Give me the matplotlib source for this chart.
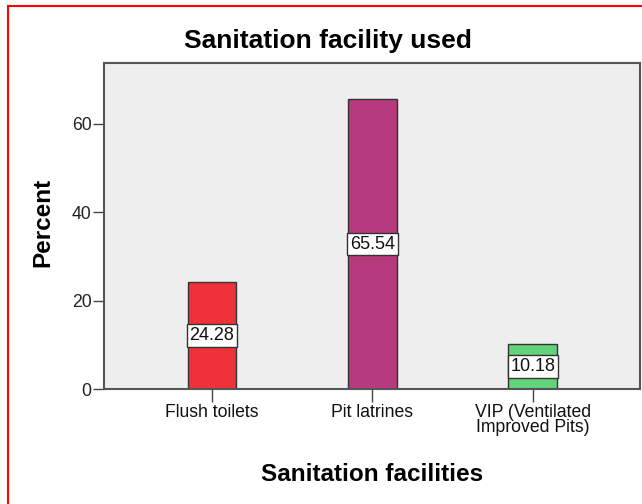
import matplotlib.pyplot as plt
import matplotlib.patches as mpatches

# data
categories = ['Flush toilets', 'Pit latrines', 'VIP (Ventilated\nImproved Pits)']
percents = [24.28, 65.54, 10.18]
bar_colors = ['#EF3239', '#B83A7E', '#62D37B']
y_ticks = [0, 20, 40, 60]

plt.rcParams['font.family'] = ['Liberation Sans', 'DejaVu Sans']

W, H = 642, 504
fig = plt.figure(figsize=(W / 100, H / 100), dpi=100)
ax = fig.add_axes([104 / W, 1 - 389 / H, 536 / W, 326 / H])
ax.set_facecolor('#EEEEEE')

x = range(len(categories))
ax.bar(x, percents, width=0.305, color=bar_colors,
       edgecolor='#333333', linewidth=1.0, zorder=2)

# value labels in white boxes
for xi, v in zip(x, percents):
    ax.text(xi, v / 2, f'{v:.2f}', ha='center', va='center', fontsize=13,
            color='#111111', zorder=3,
            bbox=dict(boxstyle='square,pad=0.15', facecolor='white',
                      edgecolor='#333333', linewidth=1.0))

ax.set_xlim(-0.673, 2.667)
ax.set_ylim(0, 73.7)
ax.set_xticks(list(x))
ax.set_xticklabels(categories, fontsize=12.7, linespacing=0.85)
ax.set_yticks(y_ticks)
ax.tick_params(axis='y', labelsize=12.7, length=8, width=1, color='#444444',
               labelcolor='#222222', pad=1)
ax.tick_params(axis='x', length=9, width=1, color='#444444',
               labelcolor='#111111', pad=2)

for s in ax.spines.values():
    s.set_color('#555555')
    s.set_linewidth(1.5)

fig.text(328 / W, 1 - 48 / H, 'Sanitation facility used', fontsize=19,
         fontweight='bold', ha='center', va='baseline')
fig.text(372 / W, 1 - 481 / H, 'Sanitation facilities', fontsize=17.5,
         fontweight='bold', ha='center', va='baseline')
fig.text(43 / W, 1 - 222 / H, 'Percent', fontsize=17.5, fontweight='bold',
         ha='center', va='center', rotation=90)

# red frame round the figure
fig.patches.append(mpatches.Rectangle((8 / W, -0.1), 1.2, 1 - 6 / H + 0.1,
                                      transform=fig.transFigure, fill=False,
                                      edgecolor='red', linewidth=1.5))

fig.savefig('out.png', dpi=100)
